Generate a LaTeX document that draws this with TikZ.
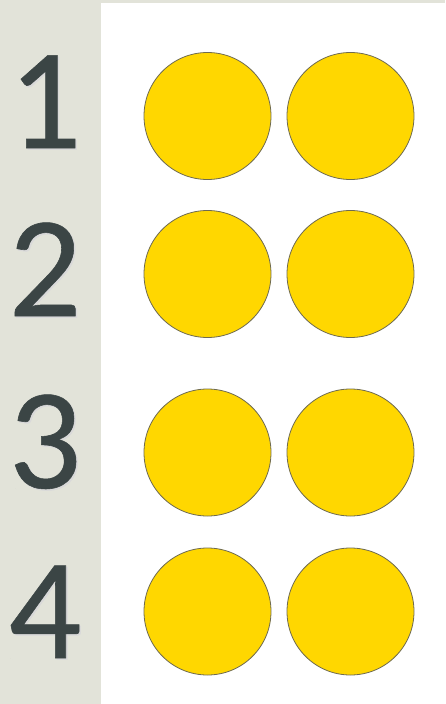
\documentclass[tikz,border=0pt]{standalone}
\usepackage{fontspec}
\newfontfamily\digitfont[FakeBold=0.4]{Carlito}
\usepackage{xcolor}
\definecolor{Strip}{HTML}{E2E3D9}
\definecolor{Slate}{HTML}{3B4545}
\definecolor{Yolk}{HTML}{FFD700}
\definecolor{Rim}{HTML}{6E6A50}
\usepackage{tikz}
\usetikzlibrary{positioning}

\begin{document}
\begin{tikzpicture}[x=1pt,y=-1pt,
  dot/.style={circle,draw=Rim,line width=0.8pt,fill=Yolk,minimum size=127pt,inner sep=0pt},
  num/.style={anchor=base,text=Slate,font=\digitfont\fontsize{144}{144}\selectfont,inner sep=0pt},
  numshadow/.style={num,text=black!15}]
\useasboundingbox (0,0) rectangle (445,704);
\fill[Strip] (0,0) rectangle (445,704);
\fill[white] (101,3) rectangle (445,704);
% digits, with a soft shadow
\foreach \n/\y in {1/148,2/316,3/488,4/658}{
  \node[numshadow] at (46.5,\y+1.5) {\n};
  \node[num] (n\n) at (45,\y) {\n};
}
% dots
\foreach \r/\y in {1/116,2/274,3/452.5,4/611.5}{
  \node[dot] (d\r a) at (207.5,\y) {};
  \node[dot] (d\r b) at (350.5,\y) {};
}
\end{tikzpicture}
\end{document}
